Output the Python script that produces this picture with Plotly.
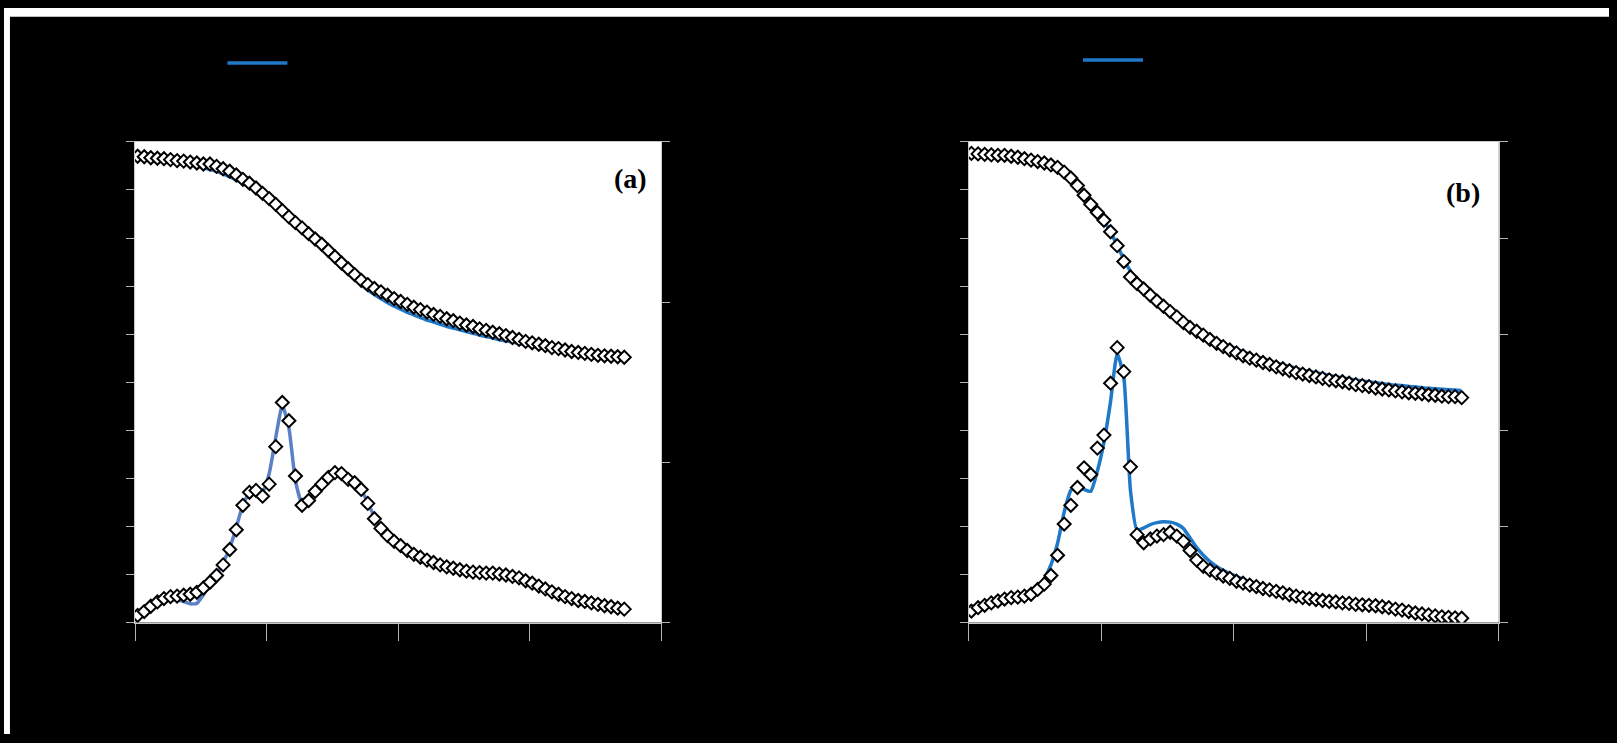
import plotly.graph_objects as go

# Measurement frequencies (GHz), shared by both samples
freq = [0.10, 0.35, 0.60, 0.85, 1.10, 1.35, 1.60, 1.85, 2.10, 2.35,
        2.60, 2.85, 3.10, 3.35, 3.60, 3.85, 4.10, 4.35, 4.60, 4.85,
        5.10, 5.35, 5.60, 5.85, 6.10, 6.35, 6.60, 6.85, 7.10, 7.35,
        7.60, 7.85, 8.10, 8.35, 8.60, 8.85, 9.10, 9.35, 9.60, 9.85,
        10.10, 10.35, 10.60, 10.85, 11.10, 11.35, 11.60, 11.85, 12.10, 12.35,
        12.60, 12.85, 13.10, 13.35, 13.60, 13.85, 14.10, 14.35, 14.60, 14.85,
        15.10, 15.35, 15.60, 15.85, 16.10, 16.35, 16.60, 16.85, 17.10, 17.35,
        17.60, 17.85, 18.10, 18.35, 18.60]

# Frequencies at which the real-part model curves are evaluated
fit_freq = [0.10, 0.38, 0.66, 0.94, 1.22, 1.50, 1.78, 2.06, 2.34, 2.62,
            2.90, 3.18, 3.46, 3.74, 4.02, 4.30, 4.58, 4.86, 5.14, 5.42,
            5.70, 5.98, 6.26, 6.54, 6.82, 7.10, 7.38, 7.66, 7.94, 8.22,
            8.50, 8.78, 9.06, 9.34, 9.62, 9.90, 10.18, 10.46, 10.74, 11.02,
            11.30, 11.58, 11.86, 12.14, 12.42, 12.70, 12.98, 13.26, 13.54, 13.82,
            14.10, 14.38, 14.66, 14.94, 15.22, 15.50, 15.78, 16.06, 16.34, 16.62,
            16.90, 17.18, 17.46, 17.74, 18.02, 18.30, 18.58]

# ---- Sample (a) ----
eps_real_a = [9.70, 9.69, 9.67, 9.66, 9.65, 9.63, 9.61, 9.60, 9.58, 9.56,
              9.54, 9.54, 9.49, 9.44, 9.39, 9.31, 9.22, 9.14, 9.04, 8.93,
              8.82, 8.70, 8.57, 8.44, 8.32, 8.21, 8.09, 7.98, 7.87, 7.74,
              7.61, 7.48, 7.36, 7.24, 7.12, 7.03, 6.95, 6.88, 6.81, 6.74,
              6.68, 6.62, 6.56, 6.51, 6.46, 6.41, 6.37, 6.32, 6.28, 6.23,
              6.19, 6.16, 6.11, 6.08, 6.04, 6.01, 5.97, 5.93, 5.89, 5.85,
              5.82, 5.79, 5.76, 5.72, 5.70, 5.67, 5.64, 5.62, 5.60, 5.58,
              5.56, 5.55, 5.54, 5.53, 5.52]
fit_real_a = [9.69, 9.67, 9.65, 9.63, 9.61, 9.59, 9.56, 9.53, 9.50, 9.46,
              9.42, 9.37, 9.31, 9.24, 9.16, 9.07, 8.97, 8.86, 8.74, 8.61,
              8.48, 8.34, 8.20, 8.06, 7.92, 7.78, 7.63, 7.48, 7.34, 7.20,
              7.07, 6.95, 6.84, 6.74, 6.65, 6.57, 6.50, 6.43, 6.37, 6.31,
              6.26, 6.21, 6.16, 6.12, 6.08, 6.04, 6.00, 5.96, 5.93, 5.89,
              5.86, 5.83, 5.80, 5.77, 5.74, 5.71, 5.68, 5.66, 5.63, 5.61,
              5.59, 5.57, 5.55, 5.53, 5.51, 5.49, 5.47]
eps_imag_a = [0.045, 0.069, 0.102, 0.129, 0.150, 0.162, 0.165, 0.171, 0.177, 0.189,
              0.216, 0.252, 0.294, 0.360, 0.456, 0.579, 0.732, 0.813, 0.825, 0.789,
              0.864, 1.098, 1.374, 1.260, 0.915, 0.732, 0.762, 0.819, 0.864, 0.906,
              0.936, 0.930, 0.894, 0.873, 0.831, 0.744, 0.648, 0.588, 0.543, 0.507,
              0.480, 0.450, 0.426, 0.408, 0.390, 0.375, 0.360, 0.348, 0.339, 0.330,
              0.321, 0.315, 0.312, 0.309, 0.309, 0.303, 0.297, 0.288, 0.279, 0.261,
              0.246, 0.228, 0.210, 0.192, 0.177, 0.162, 0.150, 0.138, 0.132, 0.123,
              0.114, 0.105, 0.099, 0.090, 0.084]
fit_imag_a = [0.024, 0.066, 0.099, 0.123, 0.135, 0.141, 0.141, 0.132, 0.117, 0.120,
              0.174, 0.240, 0.300, 0.375, 0.465, 0.594, 0.735, 0.810, 0.822, 0.816,
              0.930, 1.155, 1.356, 1.215, 0.885, 0.744, 0.768, 0.822, 0.870, 0.912,
              0.939, 0.933, 0.900, 0.870, 0.828, 0.750, 0.660, 0.588, 0.543, 0.507,
              0.480, 0.450, 0.426, 0.408, 0.390, 0.375, 0.360, 0.348, 0.339, 0.330,
              0.321, 0.315, 0.312, 0.309, 0.309, 0.303, 0.297, 0.288, 0.279, 0.261,
              0.246, 0.228, 0.210, 0.192, 0.177, 0.162, 0.150, 0.138, 0.132, 0.123,
              0.114, 0.105, 0.099, 0.090, 0.084]

# ---- Sample (b) ----
eps_real_b = [9.76, 9.75, 9.74, 9.73, 9.72, 9.72, 9.70, 9.68, 9.65, 9.62,
              9.59, 9.56, 9.52, 9.47, 9.37, 9.25, 9.09, 8.89, 8.70, 8.53,
              8.37, 8.13, 7.84, 7.51, 7.19, 7.05, 6.94, 6.81, 6.69, 6.58,
              6.47, 6.36, 6.24, 6.14, 6.06, 5.98, 5.89, 5.81, 5.74, 5.67,
              5.61, 5.55, 5.50, 5.46, 5.41, 5.37, 5.32, 5.28, 5.24, 5.20,
              5.17, 5.14, 5.11, 5.08, 5.05, 5.03, 5.01, 4.98, 4.95, 4.93,
              4.91, 4.88, 4.86, 4.84, 4.82, 4.80, 4.78, 4.77, 4.76, 4.74,
              4.73, 4.71, 4.70, 4.70, 4.68]
fit_real_b = [9.79, 9.76, 9.74, 9.73, 9.72, 9.70, 9.68, 9.65, 9.62, 9.58,
              9.54, 9.48, 9.40, 9.29, 9.15, 8.98, 8.79, 8.58, 8.33, 8.05,
              7.73, 7.42, 7.18, 7.01, 6.87, 6.74, 6.62, 6.50, 6.38, 6.27,
              6.16, 6.06, 5.97, 5.89, 5.81, 5.74, 5.67, 5.61, 5.55, 5.50,
              5.45, 5.40, 5.36, 5.32, 5.28, 5.24, 5.21, 5.18, 5.15, 5.12,
              5.09, 5.07, 5.04, 5.02, 5.00, 4.98, 4.96, 4.94, 4.93, 4.91,
              4.90, 4.88, 4.87, 4.86, 4.85, 4.84, 4.83]
eps_imag_b = [0.120, 0.155, 0.180, 0.205, 0.225, 0.245, 0.260, 0.265, 0.275, 0.295,
              0.345, 0.400, 0.490, 0.700, 1.025, 1.220, 1.405, 1.610, 1.540, 1.815,
              1.950, 2.490, 2.860, 2.610, 1.620, 0.915, 0.830, 0.870, 0.900, 0.915,
              0.940, 0.900, 0.845, 0.750, 0.650, 0.585, 0.545, 0.515, 0.485, 0.460,
              0.430, 0.410, 0.390, 0.375, 0.355, 0.340, 0.325, 0.310, 0.290, 0.275,
              0.260, 0.250, 0.240, 0.230, 0.220, 0.215, 0.205, 0.200, 0.190, 0.185,
              0.180, 0.175, 0.165, 0.155, 0.140, 0.130, 0.115, 0.100, 0.090, 0.080,
              0.070, 0.060, 0.055, 0.050, 0.045]
fit_imag_b = [0.110, 0.150, 0.180, 0.205, 0.225, 0.245, 0.260, 0.270, 0.280, 0.310,
              0.370, 0.460, 0.600, 0.825, 1.150, 1.375, 1.420, 1.385, 1.365, 1.575,
              1.875, 2.300, 2.800, 2.550, 1.375, 0.960, 0.985, 1.020, 1.040, 1.050,
              1.045, 1.025, 0.980, 0.880, 0.780, 0.700, 0.635, 0.585, 0.545, 0.510,
              0.480, 0.450, 0.425, 0.405, 0.385, 0.365, 0.345, 0.330, 0.310, 0.295,
              0.285, 0.275, 0.260, 0.250, 0.240, 0.230, 0.220, 0.210, 0.200, 0.195,
              0.185, 0.180, 0.170, 0.160, 0.150, 0.135, 0.125, 0.110, 0.100, 0.090,
              0.080, 0.070, 0.060, 0.055, 0.050]

x_ticks = [0, 5, 10, 15, 20]
left_ticks = [0, 1, 2, 3, 4, 5, 6, 7, 8, 9, 10]
right_ticks_a = [0, 1, 2, 3]
right_ticks_b = [0, 1, 2, 3, 4, 5]

W, H = 1617, 743
FIT_BLUE = "#1f78c8"
FIT_BLUE_LOW = "#5b80c6"

fig = go.Figure()


def add_panel(xa, ya_left, ya_right, real, fit_real, imag, fit_imag, legend, low_color):
    fig.add_trace(go.Scatter(x=fit_freq, y=fit_real, mode="lines", name="Fitted",
                             line=dict(color=FIT_BLUE, width=3.5, shape="spline", smoothing=0.6),
                             xaxis=xa, yaxis=ya_left, legend=legend, showlegend=True))
    fig.add_trace(go.Scatter(x=freq, y=fit_imag, mode="lines", name="Fitted ε″",
                             line=dict(color=low_color, width=3.5, shape="spline", smoothing=0.5),
                             xaxis=xa, yaxis=ya_right, legend=legend, showlegend=False))
    mk = dict(symbol="diamond", size=10, color="white", line=dict(color="black", width=2))
    fig.add_trace(go.Scatter(x=freq, y=real, mode="markers", name="Measured ε′",
                             marker=mk, xaxis=xa, yaxis=ya_left, showlegend=False))
    fig.add_trace(go.Scatter(x=freq, y=imag, mode="markers", name="Measured ε″",
                             marker=mk, xaxis=xa, yaxis=ya_right, showlegend=False))


add_panel("x", "y", "y2", eps_real_a, fit_real_a, eps_imag_a, fit_imag_a, "legend", FIT_BLUE_LOW)
add_panel("x2", "y3", "y4", eps_real_b, fit_real_b, eps_imag_b, fit_imag_b, "legend2", FIT_BLUE)

# plot areas in pixels
ya0, ya1 = 1 - 629 / H, 1 - 137 / H
dom_a = [132 / W, 662 / W]
dom_b = [972 / W, 1506 / W]

axis_common = dict(showline=True, linecolor="#c8c8c8", linewidth=1, ticks="outside",
                   tickcolor="#b4b4b4", tickwidth=1, showgrid=False, zeroline=False,
                   tickfont=dict(color="black", size=16, family="Liberation Serif"),
                   title_font=dict(color="black", size=18, family="Liberation Serif"))

def xaxis_cfg(domain, anchor):
    return dict(axis_common, domain=domain, anchor=anchor, range=[0, 20], tickvals=x_ticks,
                ticklen=17, mirror=True, title_text="Frequency (GHz)")

def yleft_cfg(anchor):
    return dict(axis_common, domain=[ya0, ya1], anchor=anchor, range=[0, 10],
                tickvals=left_ticks, ticklen=8, title_text="ε′")

def yright_cfg(anchor, overlay, rng, ticks):
    return dict(axis_common, domain=[ya0, ya1], anchor=anchor, overlaying=overlay,
                side="right", range=rng, tickvals=ticks, ticklen=8, title_text="ε″")

fig.update_layout(
    width=W, height=H,
    margin=dict(l=0, r=0, t=0, b=0),
    paper_bgcolor="black", plot_bgcolor="white",
    xaxis=xaxis_cfg(dom_a, "y"),
    yaxis=yleft_cfg("x"),
    yaxis2=yright_cfg("x", "y", [0, 3], right_ticks_a),
    xaxis2=xaxis_cfg(dom_b, "y3"),
    yaxis3=yleft_cfg("x2"),
    yaxis4=yright_cfg("x2", "y3", [0, 5], right_ticks_b),
    legend=dict(x=220 / W, y=1 - 39 / H, xanchor="left", yanchor="top",
                bgcolor="rgba(0,0,0,0)", borderwidth=0, itemwidth=60,
                font=dict(color="black", size=16, family="Liberation Serif")),
    legend2=dict(x=1082 / W, y=1 - 36 / H, xanchor="left", yanchor="top",
                 bgcolor="rgba(0,0,0,0)", borderwidth=0, itemwidth=60,
                 font=dict(color="black", size=16, family="Liberation Serif")),
    showlegend=True,
    annotations=[
        dict(text="<b>(a)</b>", xref="paper", yref="paper", x=631 / W, y=1 - 174 / H,
             xanchor="center", yanchor="middle", showarrow=False,
             font=dict(family="Liberation Serif", size=28, color="black")),
        dict(text="<b>(b)</b>", xref="paper", yref="paper", x=1470 / W, y=1 - 189 / H,
             xanchor="center", yanchor="middle", showarrow=False,
             font=dict(family="Liberation Serif", size=28, color="black")),
    ],
    shapes=[
        dict(type="rect", xref="paper", yref="paper", x0=0, x1=1, y0=1 - 9 / H, y1=1,
             fillcolor="white", line_width=0, layer="above"),
        dict(type="rect", xref="paper", yref="paper", x0=0, x1=6 / W, y0=0, y1=1,
             fillcolor="white", line_width=0, layer="above"),
    ],
)

fig.write_html("out.html")
